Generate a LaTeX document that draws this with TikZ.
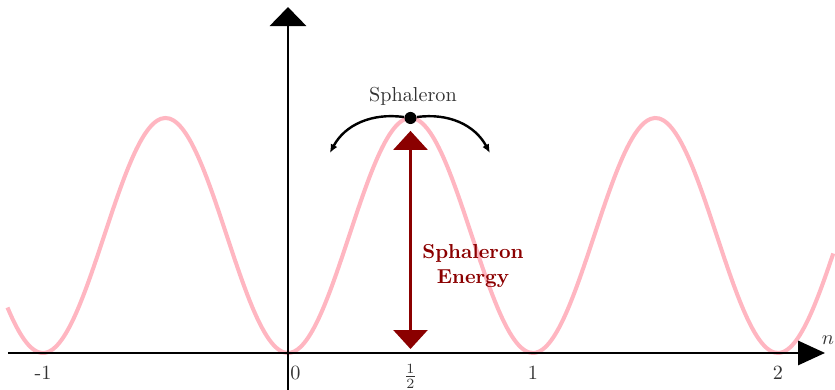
\documentclass[tikz,border=0pt]{standalone}
\usepackage{amsmath,amssymb}
\usepackage{tikz}
\usetikzlibrary{arrows.meta}
\definecolor{curvepink}{HTML}{FFB6C1}
\definecolor{energyred}{HTML}{8B0000}
\definecolor{labelgray}{HTML}{333333}
\tikzset{
  axisline/.style={line width=1.35pt},
  ticklabel/.style={labelgray,anchor=north},
}

\begin{document}
\begin{tikzpicture}[x=4.263cm,y=4.089cm]
\useasboundingbox (-1.1755,-0.1574) rectangle (2.2327,1.502);
\coordinate (xstart) at (-1.143,0); \coordinate (xend) at (2.192,0);
\coordinate (ystart) at (0,-0.1574); \coordinate (yend) at (0,1.472);
\draw[curvepink,line width=2pt,domain=-1.145:2.228,samples=200,smooth] plot (\x,{(1-cos(360*\x))/2});
\draw[axisline,-{Triangle[length=0.47cm,width=0.42cm]}] (xstart) -- (xend);
\draw[axisline,-{Triangle[length=0.33cm,width=0.63cm]}] (ystart) -- (yend);
\node[labelgray] (nlabel) at (2.204,0.055) {$n$};
\node[ticklabel] (tm1) at (-1,-0.025) {-1};
\node[ticklabel] (t0) at (0.03,-0.025) {0};
\node[ticklabel] (thalf) at (0.5,-0.02) {$\frac{1}{2}$};
\node[ticklabel] (t1) at (1,-0.025) {1};
\node[ticklabel] (t2) at (2,-0.025) {2};
% energy barrier
\coordinate (ebot) at (0.5,0.017); \coordinate (etop) at (0.5,0.945);
\draw[energyred,line width=1.5pt,{Triangle[length=0.33cm,width=0.59cm]}-{Triangle[length=0.33cm,width=0.59cm]}] (ebot) -- (etop);
\node[energyred,font=\bfseries,align=center] (elabel) at (0.755,0.37) {Sphaleron\\Energy};
% sphaleron on top
\node[circle,fill=black,inner sep=0pt,minimum size=0.21cm] (sph) at (0.5,1) {};
\node[labelgray] (sphlabel) at (0.51,1.094) {Sphaleron};
\coordinate (lefttip) at (0.171,0.851); \coordinate (righttip) at (0.824,0.851);
\draw[line width=1.2pt,-{Latex[length=0.15cm,width=0.13cm]}] (sph) to[out=172,in=62] (lefttip);
\draw[line width=1.2pt,-{Latex[length=0.15cm,width=0.13cm]}] (sph) to[out=8,in=118] (righttip);
\end{tikzpicture}
\end{document}
